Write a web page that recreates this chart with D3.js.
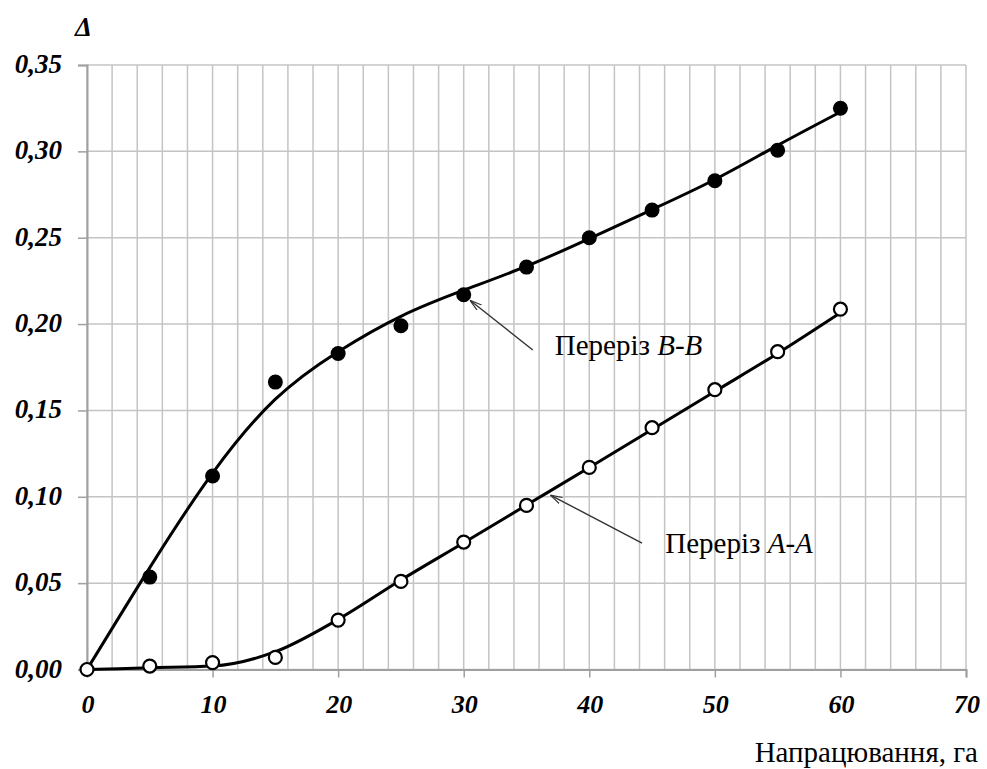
<!DOCTYPE html>
<html>
<head>
<meta charset="utf-8">
<script src="https://cdn.jsdelivr.net/npm/d3@7"></script>
</head>
<body style="margin:0">
<svg id="chart" width="987" height="769" style="display:block;background:#fff"></svg>
<script>
// measured points (filled = B-B, open = A-A)
var hours = [0, 5, 10, 15, 20, 25, 30, 35, 40, 45, 50, 55, 60];
var pointsB = [null, 0.0535, 0.112, 0.1664, 0.183, 0.199, 0.217, 0.233, 0.250, 0.266, 0.283, 0.3006, 0.325];
var pointsA = [0, 0.002, 0.004, 0.007, 0.0286, 0.051, 0.0738, 0.095, 0.117, 0.140, 0.162, 0.184, 0.2086];

// trend lines
var trendXB = [0, 5, 10, 15, 20, 25, 30, 35, 40, 45, 50, 55, 60];
var trendB = [0, 0.059, 0.1137, 0.1565, 0.184, 0.2045, 0.2196, 0.2335, 0.2495, 0.2663, 0.2837, 0.3035, 0.3228];
var trendXA = [0, 5, 10, 15, 20, 25, 30, 35, 40, 45, 50, 55, 60];
var trendA = [0, 0.001, 0.002, 0.0103, 0.029, 0.0518, 0.0734, 0.0952, 0.117, 0.139, 0.161, 0.183, 0.2065];

var xTicks = [0, 10, 20, 30, 40, 50, 60, 70];
var yTicks = [0, 0.05, 0.10, 0.15, 0.20, 0.25, 0.30, 0.35];

var SERIF = "'Liberation Serif', monospace";

var svg = d3.select("#chart");
var x = d3.scaleLinear().domain([0, 70]).range([87, 966]);
var y = d3.scaleLinear().domain([0, 0.35]).range([669.5, 65]);
var fmt = d3.formatLocale({decimal: ",", thousands: " ", grouping: [3], currency: ["", ""]}).format(".2f");

function serif(sel, size) {
    return sel.attr("font-family", SERIF).style("font-family", SERIF, "important")
        .attr("font-size", size).attr("fill", "#000");
}
function boldItalic(sel, size) {
    return serif(sel, size || 27).style("font-weight", "bold").style("font-style", "italic");
}

// grid
var grid = svg.append("g").attr("stroke", "#c4c4c4").attr("stroke-width", 1.5);
grid.selectAll("line.v").data(d3.range(0, 71, 2)).enter().append("line")
    .attr("x1", function(d) { return x(d); }).attr("x2", function(d) { return x(d); })
    .attr("y1", y(0)).attr("y2", y(0.35));
grid.selectAll("line.h").data(yTicks).enter().append("line")
    .attr("x1", x(0)).attr("x2", x(70))
    .attr("y1", function(d) { return y(d); }).attr("y2", function(d) { return y(d); });

// axes
var yAxis = svg.append("g").attr("transform", "translate(" + x(0) + ",0)")
    .call(d3.axisLeft(y).tickValues(yTicks).tickSize(9).tickFormat(""));
var xAxis = svg.append("g").attr("transform", "translate(0," + y(0) + ")")
    .call(d3.axisBottom(x).tickValues(xTicks).tickSize(8).tickFormat(""));
[xAxis, yAxis].forEach(function(a) {
    a.select(".domain").attr("stroke", "#a0a0a0").attr("stroke-width", 2);
    a.selectAll(".tick line").attr("stroke", "#a0a0a0").attr("stroke-width", 1.5);
});

svg.append("g").selectAll("text").data(yTicks).enter().append("text")
    .call(boldItalic, 27).attr("text-anchor", "end")
    .attr("x", 62).attr("y", function(d) { return y(d) + 8; })
    .text(function(d) { return fmt(d); });
svg.append("g").selectAll("text").data(xTicks).enter().append("text")
    .call(boldItalic, 26).attr("text-anchor", "middle")
    .attr("x", function(d) { return x(d) + 1; }).attr("y", 713)
    .text(function(d) { return d; });

svg.append("text").call(boldItalic, 27).attr("x", 75).attr("y", 36).text("Δ");
svg.append("text").call(serif, 29).attr("text-anchor", "end")
    .attr("x", 978).attr("y", 762).text("Напрацювання, га");

// trend curves
var line = d3.line()
    .x(function(d) { return x(d[0]); })
    .y(function(d) { return y(d[1]); });
svg.append("path").datum(d3.zip(trendXB, trendB)).attr("d", line.curve(d3.curveNatural))
    .attr("fill", "none").attr("stroke", "#000").attr("stroke-width", 3);
svg.append("path").datum(d3.zip(trendXA, trendA)).attr("d", line.curve(d3.curveMonotoneX))
    .attr("fill", "none").attr("stroke", "#000").attr("stroke-width", 3);

// markers
svg.append("g").selectAll("circle").data(d3.zip(hours, pointsB).filter(function(d) { return d[1] !== null; }))
    .enter().append("circle")
    .attr("cx", function(d) { return x(d[0]); }).attr("cy", function(d) { return y(d[1]); })
    .attr("r", 7.5).attr("fill", "#000");
svg.append("g").selectAll("circle").data(d3.zip(hours, pointsA))
    .enter().append("circle")
    .attr("cx", function(d) { return x(d[0]); }).attr("cy", function(d) { return y(d[1]); })
    .attr("r", 6.5).attr("fill", "#fff").attr("stroke", "#000").attr("stroke-width", 2.2);

// annotation arrows
svg.append("defs").append("marker").attr("id", "head")
    .attr("viewBox", "0 0 12 8").attr("refX", 12).attr("refY", 4)
    .attr("markerWidth", 12).attr("markerHeight", 8).attr("markerUnits", "userSpaceOnUse")
    .attr("orient", "auto")
    .append("path").attr("d", "M0,0.5 L12,4 L0,7.5").attr("fill", "none").attr("stroke", "#333").attr("stroke-width", 1.2);

var notes = [
    {from: [35.5, 0.185], to: [30.5, 0.2138], at: [37.25, 0.182], name: "B-B"},
    {from: [44.2, 0.0732], to: [36.9, 0.101], at: [46.05, 0.0674], name: "A-A"}
];
notes.forEach(function(n) {
    svg.append("line")
        .attr("x1", x(n.from[0])).attr("y1", y(n.from[1]))
        .attr("x2", x(n.to[0])).attr("y2", y(n.to[1]))
        .attr("stroke", "#333").attr("stroke-width", 1.4).attr("marker-end", "url(#head)");
    var t = svg.append("text").call(serif, 29)
        .attr("x", x(n.at[0])).attr("y", y(n.at[1]));
    t.append("tspan").text("Переріз ");
    t.append("tspan").style("font-style", "italic").text(n.name);
});
</script>
</body>
</html>
